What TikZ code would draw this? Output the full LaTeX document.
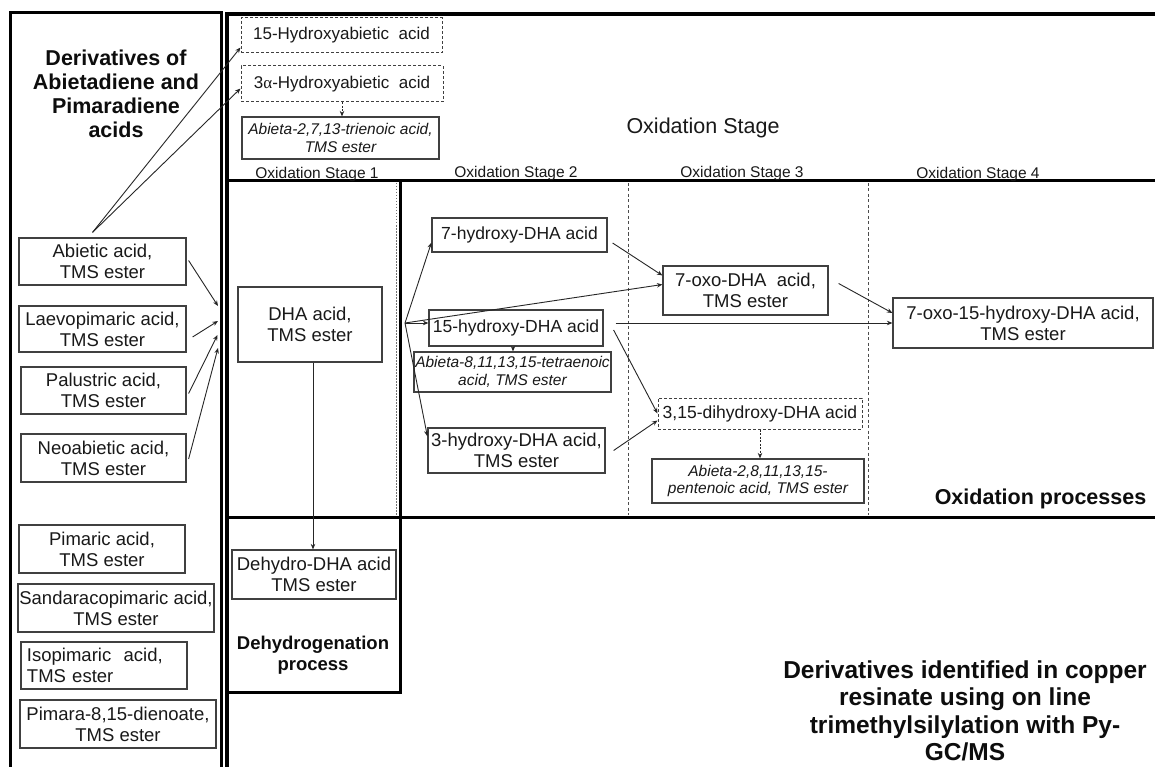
\documentclass[tikz,border=0pt]{standalone}
\usepackage{fontspec}
\setmainfont{Liberation Sans}
\newfontfamily\seriffont{Liberation Serif}
\usetikzlibrary{arrows.meta,calc}
\tikzset{
  bx/.style={draw=black!75, line width=1.2pt, inner sep=0pt, align=center,
    font=\fontsize{18.5}{21}\selectfont, text=black!90},
  sbx/.style={bx, font=\fontsize{17.5}{20}\selectfont},
  dbx/.style={sbx, dash pattern=on 3pt off 2pt, line width=1pt},
  ibx/.style={bx, font=\fontsize{15.5}{17.5}\selectfont\itshape},
  frame/.style={line width=3pt, black},
  conn/.style={draw=black!85, line width=0.9pt, -{Stealth[length=5.5pt,width=4.5pt]}},
  dconn/.style={conn, dash pattern=on 2pt off 1.5pt},
  stg/.style={font=\fontsize{15.5}{18}\selectfont, text=black!90},
  ttl/.style={font=\fontsize{21.5}{24}\selectfont\bfseries, align=center, text=black!95},
}
\begin{document}
\begin{tikzpicture}[x=1pt,y=-1pt]
\useasboundingbox[fill=white] (0,0) rectangle (1155,767);

% frames
\draw[frame] (10,768) -- (10,13) -- (221,13) -- (221,768);
\draw[line width=4pt] (226.5,768) -- (226.5,14) -- (1157,14);
\draw[frame] (228,181) -- (1157,181);
\draw[frame] (228,517) -- (1157,517);
\draw[frame] (400,181) -- (400,692) -- (228,692);
\draw[black!55, line width=1.5pt, dash pattern=on 1.5pt off 1.5pt] (396.5,183) -- (396.5,515);
\draw[black!70, line width=1pt, dash pattern=on 3pt off 2.5pt] (628,183) -- (628,515);
\draw[black!70, line width=1pt, dash pattern=on 3pt off 2.5pt] (868,183) -- (868,515);

% titles
\node[ttl] (title) at (116,94) {Derivatives of\\Abietadiene and\\Pimaradiene\\acids};
\node[font=\fontsize{21.5}{24}\selectfont, text=black!90] (ostage) at (703,128) {Oxidation Stage};
\node[stg] (s1) at (317,174) {Oxidation Stage 1};
\node[stg] (s2) at (516,173) {Oxidation Stage 2};
\node[stg] (s3) at (742,173) {Oxidation Stage 3};
\node[stg] (s4) at (978,174) {Oxidation Stage 4};
\node[ttl] (oxproc) at (1040.5,499) {Oxidation processes};
\node[ttl, font=\fontsize{18.5}{20.5}\selectfont\bfseries] (dehyd) at (313,655) {Dehydrogenation\\process};
\node[ttl, font=\fontsize{24.5}{27.5}\selectfont\bfseries] (bottom) at (965,711)
  {Derivatives identified in copper\\resinate using on line\\trimethylsilylation with Py-\\GC/MS};

% left column
\node[bx, minimum width=167pt, minimum height=47pt] (ab) at (102.5,261.5) {Abietic acid,\\TMS ester};
\node[bx, minimum width=167pt, minimum height=46pt] (lae) at (102.5,329) {Laevopimaric acid,\\TMS ester};
\node[bx, minimum width=165pt, minimum height=47pt] (pal) at (103.5,390.5) {Palustric acid,\\TMS ester};
\node[bx, minimum width=165pt, minimum height=48pt] (neo) at (103.5,458) {Neoabietic acid,\\TMS ester};
\node[bx, minimum width=166pt, minimum height=48pt] (pim) at (102,549) {Pimaric acid,\\TMS ester};
\node[bx, minimum width=196pt, minimum height=48pt] (san) at (116,608) {Sandaracopimaric acid,\\TMS ester};
\node[bx, minimum width=166pt, minimum height=47pt, text width=154pt, align=left] (iso) at (104,665.5) {Isopimaric\ \ acid,\\TMS ester};
\node[bx, minimum width=196pt, minimum height=48pt] (pd) at (118,724) {Pimara-8,15-dienoate,\\TMS ester};

\coordinate (c1) at (218,306);
\coordinate (c2) at (218,321);
\coordinate (c3) at (217.5,335);
\coordinate (c4) at (218,348);
\draw[conn] ([shift={(2pt,1pt)}]ab.east) -- (c1);
\draw[conn] ([xshift=6pt,yshift=-8pt]lae.east) -- (c2);
\draw[conn] ([shift={(2pt,-3pt)}]pal.east) -- (c3);
\draw[conn] ([shift={(2pt,-1pt)}]neo.east) -- (c4);

% top boxes
\node[dbx, font=\fontsize{17}{20}\selectfont, minimum width=201pt, minimum height=35pt] (h15a) at (341.5,35.5) {15-Hydroxyabietic\ \ acid};
\node[dbx, font=\fontsize{17}{20}\selectfont, minimum width=202pt, minimum height=36pt] (h3a) at (342,84) {3{\seriffont α}-Hydroxyabietic\ \ acid};
\node[ibx, minimum width=197pt, minimum height=42pt] (at213) at (340.5,138) {Abieta-2,7,13-trienoic acid,\\TMS ester};
\draw[conn] ([shift={(-10pt,5pt)}]ab.north) -- ([yshift=6pt]h15a.south west);
\draw[conn] ([shift={(-10pt,5pt)}]ab.north) -- ([yshift=14pt]h3a.south west);
\draw[dconn] (h3a.south) -- (h3a.south |- at213.north);

% stage 1
\node[bx, minimum width=144pt, minimum height=75pt] (dha) at (310,324.5) {DHA acid,\\TMS ester};
\node[bx, minimum width=164pt, minimum height=49pt] (ddha) at (314,574.5) {Dehydro-DHA acid\\TMS ester};
\draw[conn] ([xshift=3pt]dha.south) -- ([xshift=3pt]dha.south |- ddha.north);

% stage 2
\node[sbx, minimum width=175pt, minimum height=34pt] (h7) at (519.5,235) {7-hydroxy-DHA acid};
\node[sbx, minimum width=174pt, minimum height=36pt] (h15) at (516,328) {15-hydroxy-DHA acid};
\node[ibx, minimum width=197pt, minimum height=40pt] (tet) at (512.5,372) {Abieta-8,11,13,15-tetraenoic\\acid, TMS ester};
\node[bx, minimum width=177pt, minimum height=45pt] (h3) at (516.5,450.5) {3-hydroxy-DHA acid,\\TMS ester};

% stage 3
\node[bx, minimum width=165pt, minimum height=49pt] (oxo7) at (745.5,290.5) {7-oxo-DHA\ \ acid,\\TMS ester};
\node[dbx, minimum width=204pt, minimum height=31pt] (d315) at (760,413.5) {3,15-dihydroxy-DHA acid};
\node[ibx, minimum width=212pt, minimum height=44pt] (pent) at (758,481) {Abieta-2,8,11,13,15-\\pentenoic acid, TMS ester};

% stage 4
\node[bx, minimum width=260pt, minimum height=50pt] (oxo15) at (1023,323) {7-oxo-15-hydroxy-DHA acid,\\TMS ester};

% fan
\coordinate (fan) at (405,323);
\draw[conn] (fan) -- ([yshift=10pt]h7.south west);
\draw[conn] (fan) -- (fan -| h15.west);
\draw[conn] (fan) -- ([yshift=-9pt]h3.north west);
\draw[conn] (fan) -- ([yshift=6pt]oxo7.west);

\draw[conn] ([shift={(5pt,-8pt)}]h7.east) -- ([yshift=15pt]oxo7.west);
\draw[conn] ([shift={(12pt,5pt)}]h15.east) -- (oxo15.west);
\draw[conn] ([shift={(10pt,-2pt)}]h15.east) -- (d315.west);
\draw[conn] ([xshift=8pt]h3.east) -- ([yshift=-7pt]d315.west);
\draw[conn] ([shift={(10pt,7pt)}]oxo7.east) -- ([yshift=10pt]oxo15.west);
\draw[dconn] ([xshift=-3pt]h15.south) -- ([xshift=-3pt]h15.south |- tet.north);
\draw[dconn] (d315.south) -- (d315.south |- pent.north);
\end{tikzpicture}
\end{document}
